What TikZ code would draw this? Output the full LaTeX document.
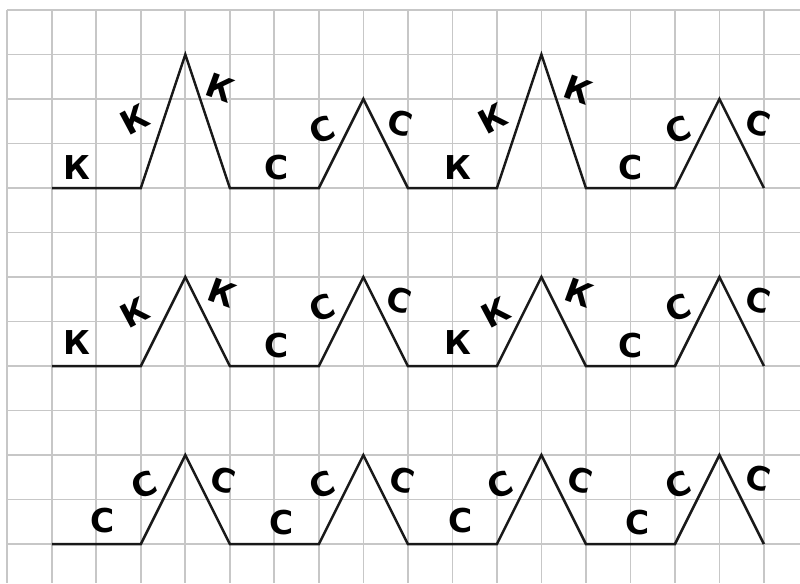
\documentclass[tikz,border=0pt]{standalone}
\usepackage{fontspec}
\setmainfont{DejaVu Sans}
\usepackage{tikz}

\begin{document}
\begin{tikzpicture}[
  gridline/.style={draw=black!22,line width=1.1pt},
  zig/.style={draw=black!90,line width=1.6pt,line join=miter},
  lbl/.style={font=\bfseries\fontsize{21}{21}\selectfont,inner sep=0pt}]
\useasboundingbox (-0.164,-0.876) rectangle (17.81,12.225);
% squared paper
\foreach \y in {0,...,12} \draw[gridline] (0,\y) -- (17.81,\y);
\foreach \x in {0,...,17} \draw[gridline] (\x,12) -- (\x,-0.876);
% zigzag rows: baseline / first peak / second peak
\foreach \b/\p/\q in {8/3/2,4/2/2,0/2/2}
  \draw[zig] (1,\b) -- (3,\b) -- (4,\b+\p) -- (5,\b) -- (7,\b) -- (8,\b+\q) -- (9,\b)
    -- (11,\b) -- (12,\b+\p) -- (13,\b) -- (15,\b) -- (16,\b+\q) -- (17,\b);
% letters of row 1
\foreach \x/\y/\r/\t [count=\i] in {1.57/8.47/0/К, 2.87/9.53/28/К, 4.79/10.25/-20/К,
    6.05/8.47/0/С, 7.08/9.30/22/С, 8.83/9.46/-15/С,
    10.12/8.47/0/К, 10.90/9.57/28/К, 12.82/10.20/-20/К,
    14.00/8.47/0/С, 15.07/9.30/22/С, 16.87/9.46/-15/С}
  \node[lbl,rotate=\r] (a\i) at (\x,\y) {\t};
% letters of row 2
\foreach \x/\y/\r/\t [count=\i] in {1.57/4.52/0/К, 2.87/5.21/28/К, 4.83/5.64/-20/К,
    6.05/4.47/0/С, 7.08/5.30/22/С, 8.80/5.48/-15/С,
    10.12/4.52/0/К, 10.97/5.19/28/К, 12.84/5.64/-20/К,
    14.00/4.47/0/С, 15.07/5.30/22/С, 16.87/5.48/-15/С}
  \node[lbl,rotate=\r] (b\i) at (\x,\y) {\t};
% letters of row 3
\foreach \x/\y/\r/\t [count=\i] in {2.15/0.54/0/С, 3.08/1.33/22/С, 4.86/1.44/-15/С,
    6.17/0.49/0/С, 7.08/1.33/22/С, 8.88/1.44/-15/С,
    10.18/0.54/0/С, 11.08/1.33/22/С, 12.88/1.44/-15/С,
    14.17/0.49/0/С, 15.07/1.33/22/С, 16.87/1.48/-15/С}
  \node[lbl,rotate=\r] (c\i) at (\x,\y) {\t};
\end{tikzpicture}
\end{document}
